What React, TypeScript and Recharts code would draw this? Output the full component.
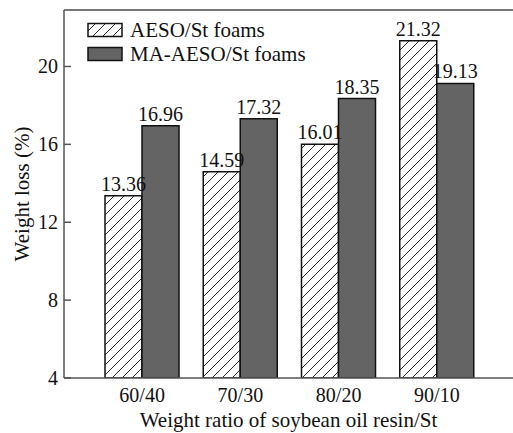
import { Bar, BarChart, LabelList, Legend, ReferenceLine, XAxis, YAxis, Label } from "recharts";

const categories = ["60/40", "70/30", "80/20", "90/10"];
const aesoFoams = [13.36, 14.59, 16.01, 21.32];
const maAesoFoams = [16.96, 17.32, 18.35, 19.13];
const yTicks = [4, 8, 12, 16, 20];
const yDomain: [number, number] = [4, 22.9];

const seriesNames = ["AESO/St foams", "MA-AESO/St foams"];

const font = "'Liberation Serif', 'Times New Roman', serif";
const darkFill = "#646464";
const axisColor = "#555";

const rows = categories.map((ratio, i) => ({
  ratio,
  aeso: aesoFoams[i],
  maAeso: maAesoFoams[i],
}));

const fmt = (v: number) => v.toFixed(2);

// y ticks point into the plot, labels sit left of the axis
const YTick = (props: any) => {
  const { x, y, payload } = props;
  return (
    <g>
      <line x1={x + 6} x2={x + 13} y1={y} y2={y} stroke={axisColor} strokeWidth={1.5} />
      <text x={x} y={y} dy="0.35em" textAnchor="end" fontSize={20} fontFamily={font} fill="#111">
        {payload.value}
      </text>
    </g>
  );
};

const YTitle = (props: any) => {
  const { viewBox } = props;
  const cx = viewBox.x + 22;
  const cy = viewBox.y + viewBox.height / 2;
  return (
    <text
      x={cx}
      y={cy}
      transform={`rotate(-90, ${cx}, ${cy})`}
      textAnchor="middle"
      dominantBaseline="central"
      fontSize={21}
      fontFamily={font}
      fill="#111"
    >
      Weight loss (%)
    </text>
  );
};

const LegendBox = () => (
  <div style={{ fontFamily: font, fontSize: 21, color: "#111", lineHeight: "24px" }}>
    {seriesNames.map((name, i) => (
      <div key={name} style={{ display: "flex", alignItems: "center", height: 24 }}>
        <svg width={37} height={16} style={{ marginRight: 6 }}>
          <rect
            x={1}
            y={1.5}
            width={34}
            height={13}
            fill={i === 0 ? "url(#hatch)" : darkFill}
            stroke="#111"
            strokeWidth={1.5}
          />
        </svg>
        <span>{name}</span>
      </div>
    ))}
  </div>
);

export default function App() {
  return (
    <div style={{ position: "absolute", left: 0, top: 0 }}>
      <BarChart
        width={513}
        height={433}
        data={rows}
        margin={{ top: 10, right: 0, bottom: 0, left: 0 }}
        barGap={0}
        barSize={37}
      >
        <defs>
          <pattern id="hatch" width={10} height={10} patternUnits="userSpaceOnUse">
            <rect width={10} height={10} fill="#fff" />
            <path d="M0,10 L10,0 M-2.5,2.5 L2.5,-2.5 M7.5,12.5 L12.5,7.5" stroke="#111" strokeWidth={0.9} />
          </pattern>
        </defs>
        <XAxis
          dataKey="ratio"
          height={55}
          padding={{ left: 29, right: 27 }}
          tickLine={false}
          tickSize={0}
          tickMargin={10}
          axisLine={{ stroke: axisColor, strokeWidth: 1.5 }}
          tick={{ fontSize: 20, fontFamily: font, fill: "#111" }}
        >
          <Label
            value="Weight ratio of soybean oil resin/St"
            position="insideBottom"
            offset={6}
            style={{ fontSize: 21, fontFamily: font, fill: "#111" }}
          />
        </XAxis>
        <YAxis
          width={64}
          domain={yDomain}
          allowDataOverflow
          ticks={yTicks}
          tickLine={false}
          tickSize={0}
          tickMargin={6}
          axisLine={{ stroke: axisColor, strokeWidth: 1.5 }}
          tick={<YTick />}
        >
          <Label content={<YTitle />} />
        </YAxis>
        <ReferenceLine y={yDomain[1]} stroke="#777" strokeWidth={2} />
        <Legend
          layout="vertical"
          align="center"
          verticalAlign="middle"
          wrapperStyle={{ top: 18, left: 87, width: "auto" }}
          content={<LegendBox />}
        />
        <Bar dataKey="aeso" fill="url(#hatch)" stroke="#111" strokeWidth={1.5} isAnimationActive={false}>
          <LabelList
            dataKey="aeso"
            position="top"
            offset={5}
            formatter={fmt}
            style={{ fontSize: 20, fontFamily: font, fill: "#111" }}
          />
        </Bar>
        <Bar dataKey="maAeso" fill={darkFill} stroke="#111" strokeWidth={1.5} isAnimationActive={false}>
          <LabelList
            dataKey="maAeso"
            position="top"
            offset={5}
            formatter={fmt}
            style={{ fontSize: 20, fontFamily: font, fill: "#111" }}
          />
        </Bar>
      </BarChart>
    </div>
  );
}
